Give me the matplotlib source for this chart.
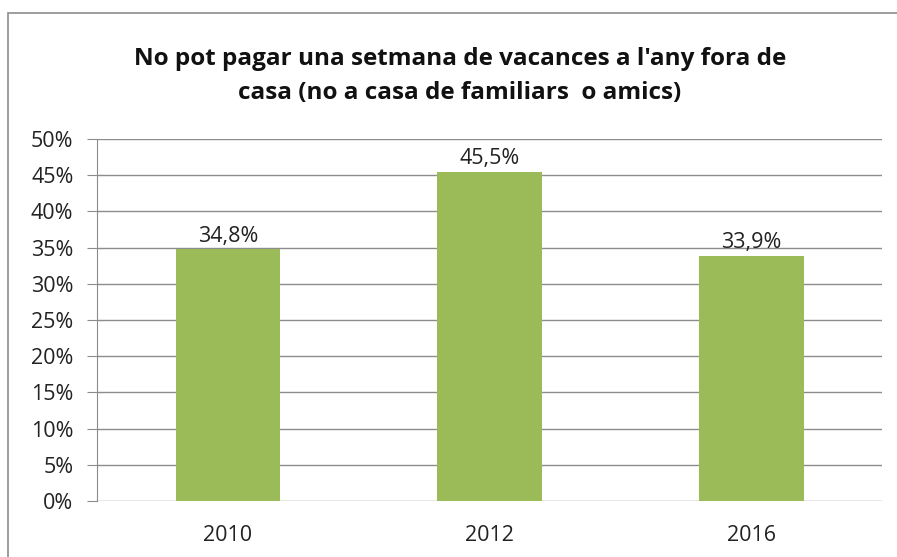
import matplotlib
matplotlib.use("Agg")
import matplotlib.pyplot as plt
from matplotlib.patches import Rectangle
from matplotlib.ticker import FuncFormatter

# Dades
years = ["2010", "2012", "2016"]
values = [34.8, 45.5, 33.9]
title = "No pot pagar una setmana de vacances a l'any fora de\ncasa (no a casa de familiars  o amics)"

plt.rcParams['font.family'] = ['Open Sans', 'DejaVu Sans']

W, H = 897, 557
fig = plt.figure(figsize=(W / 100, H / 100), dpi=100)
ax = fig.add_axes([97 / W, 1 - 501 / H, (882 - 97) / W, (501 - 139) / H])

# marc del grafic
fig.patches.append(Rectangle((8 / W, -0.1), 1.2, 1.1 - 13 / H, transform=fig.transFigure,
                             fill=False, edgecolor="#8c8c8c", linewidth=1.2))

x = range(len(years))
ax.bar(x, values, width=0.4, color="#9bbb59", zorder=3)
for xi, v in zip(x, values):
    ax.text(xi, v + 0.3, "{:.1f}%".format(v).replace(".", ","), ha="center", va="bottom",
            fontsize=15.5, color="#222222")

ax.set_xlim(-0.5, len(years) - 0.5)
ax.set_ylim(0, 50)
ax.set_yticks(range(0, 51, 5))
ax.yaxis.set_major_formatter(FuncFormatter(lambda v, p: "{:d}%".format(int(v))))
ax.set_xticks(list(x))
ax.set_xticklabels(years)

ax.grid(axis="y", color="#8c8c8c", linewidth=1.0, zorder=0)
for s in ["top", "right", "bottom"]:
    ax.spines[s].set_visible(False)
ax.spines["left"].set_color("#8c8c8c")
ax.tick_params(axis="y", length=7, color="#8c8c8c", labelsize=15.5, pad=10, labelcolor="#222222")
ax.tick_params(axis="x", length=0, labelsize=15.5, pad=17, labelcolor="#222222")

fig.text(460 / W, 1 - 76 / H, title, ha="center", va="center", fontsize=17.5, fontweight="bold",
         linespacing=1.55, color="#111111")

fig.savefig("out.png", dpi=100)
